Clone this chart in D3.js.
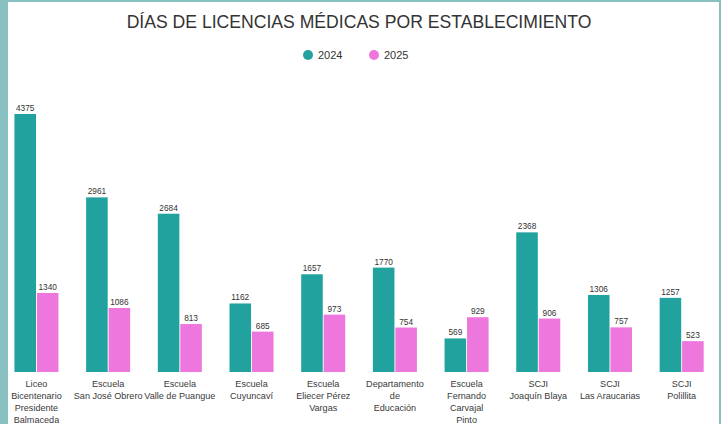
<!DOCTYPE html>
<html>
<head>
<meta charset="utf-8">
<script src="https://cdn.jsdelivr.net/npm/d3@7"></script>
<style>
  body { margin: 0; background: #88bfc1; }
  svg { display: block; }
  text { font-family: "Liberation Sans", Arial, sans-serif; fill: #333; }
</style>
</head>
<body>
<div id="chart"></div>
<script>
// data
var categories = ["Liceo Bicentenario", "San José Obrero", "Valle de Puangue", "Cuyuncaví",
                  "Eliecer Pérez Vargas", "Departamento de Educación", "Fernando Carvajal Pinto",
                  "Joaquín Blaya", "Las Araucarias", "Polillita"];
var labelLines = [
  ["Liceo", "Bicentenario", "Presidente", "Balmaceda"],
  ["Escuela", "San José Obrero"],
  ["Escuela", "Valle de Puangue"],
  ["Escuela", "Cuyuncaví"],
  ["Escuela", "Eliecer Pérez", "Vargas"],
  ["Departamento", "de", "Educación"],
  ["Escuela", "Fernando", "Carvajal", "Pinto"],
  ["SCJI", "Joaquín Blaya"],
  ["SCJI", "Las Araucarias"],
  ["SCJI", "Polillita"]
];
var series = ["2024", "2025"];
var values2024 = [4375, 2961, 2684, 1162, 1657, 1770, 569, 2368, 1306, 1257];
var values2025 = [1340, 1086, 813, 685, 973, 754, 929, 906, 757, 523];
var colors = ["#21a29f", "#ee77de"];

var width = 721, height = 424;

var svg = d3.select("#chart")
  .append("svg")
    .attr("width", width)
    .attr("height", height);

// white card inside the teal frame
svg.append("rect")
    .attr("x", 8).attr("y", 2)
    .attr("width", 711).attr("height", 424)
    .style("fill", "#fff");

var data = categories.map(function(c, i) {
  return {cat: c, lines: labelLines[i], vals: [values2024[i], values2025[i]]};
});

var x = d3.scaleBand()
    .domain(categories)
    .range([0.6, 717.5])
    .paddingInner(0.386)
    .paddingOuter(0.193);

var xs = d3.scaleBand()
    .domain(series)
    .range([0, x.bandwidth()])
    .paddingInner(0.04);

var y = d3.scaleLinear()
    .domain([0, d3.max(values2024)])
    .range([372, 114]);

// title
svg.append("text")
    .attr("x", 359).attr("y", 28)
    .attr("text-anchor", "middle")
    .style("font-size", "17.6px")
    .text("DÍAS DE LICENCIAS MÉDICAS POR ESTABLECIMIENTO");

// legend
var legend = svg.selectAll(".legend")
    .data(series)
    .enter()
    .append("g")
      .attr("transform", function(d, i) { return "translate(" + (308 + i * 66) + ",55)"; });
legend.append("circle")
    .attr("r", 5)
    .style("fill", function(d, i) { return colors[i]; });
legend.append("text")
    .attr("x", 10).attr("dy", "0.35em")
    .style("font-size", "11px")
    .text(function(d) { return d; });

var groups = svg.selectAll(".group")
    .data(data)
    .enter()
    .append("g")
      .attr("transform", function(d) { return "translate(" + x(d.cat) + ",0)"; });

var bars = groups.selectAll("g")
    .data(function(d) { return d.vals.map(function(v, i) { return {s: series[i], v: v, i: i}; }); })
    .enter()
    .append("g");

bars.append("rect")
    .attr("x", function(d) { return xs(d.s); })
    .attr("y", function(d) { return y(d.v); })
    .attr("width", xs.bandwidth())
    .attr("height", function(d) { return y(0) - y(d.v); })
    .style("fill", function(d) { return colors[d.i]; });

bars.append("text")
    .attr("x", function(d) { return xs(d.s) + xs.bandwidth() / 2; })
    .attr("y", function(d) { return y(d.v) - 3; })
    .attr("text-anchor", "middle")
    .style("font-size", "8.3px")
    .text(function(d) { return d.v; });

// hand-wrapped category labels
groups.append("text")
    .attr("text-anchor", "middle")
    .style("font-size", "9.1px")
    .style("fill", "#3a3a3a")
    .selectAll("tspan")
    .data(function(d) { return d.lines; })
    .enter()
    .append("tspan")
      .attr("x", x.bandwidth() / 2)
      .attr("y", function(d, i) { return 386.5 + i * 12.2; })
      .text(function(d) { return d; });
</script>
</body>
</html>
